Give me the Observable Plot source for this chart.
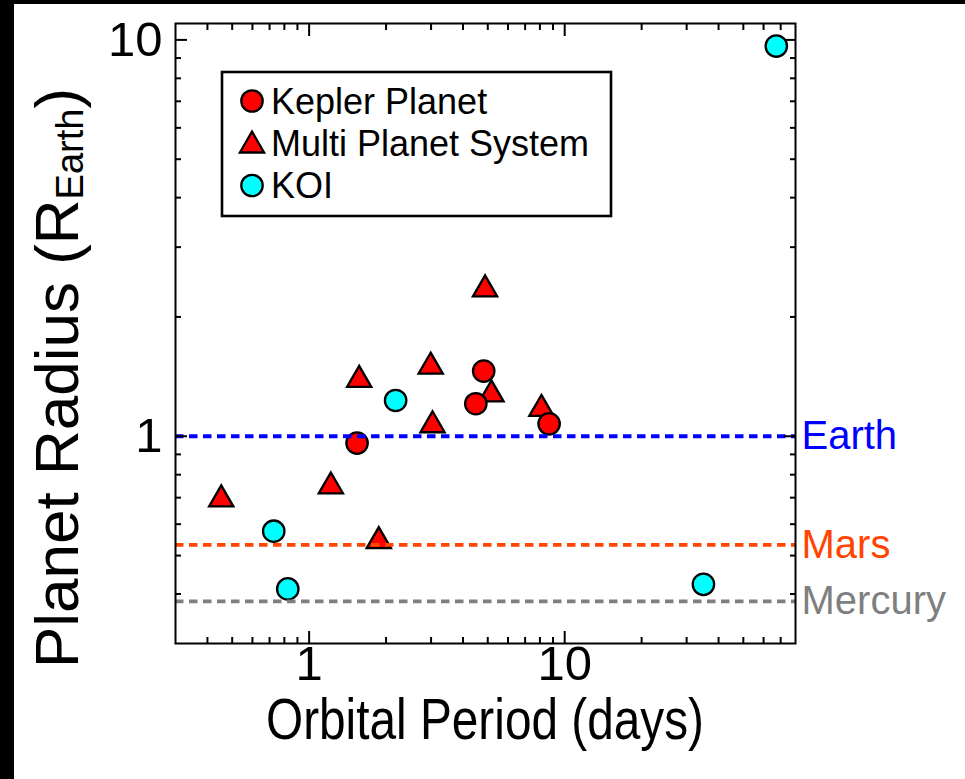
<!DOCTYPE html>
<html><head><meta charset="utf-8">
<script src="https://cdn.jsdelivr.net/npm/d3@7"></script>
<script src="https://cdn.jsdelivr.net/npm/@observablehq/plot@0.6"></script>
<style>
html,body{margin:0;padding:0;background:#fff;}
#wrap{position:relative;width:965px;height:779px;overflow:hidden;background:#fff;}
#wrap svg{display:block;}
.bar{position:absolute;background:#000;}
</style></head><body>
<div id="wrap"></div>
<script>
// ---- data ----
const keplerPeriod = [1.54, 4.82, 4.49, 8.69];
const keplerRadius = [0.961, 1.460, 1.208, 1.075];
const multiPeriod = [0.453, 1.216, 1.570, 1.873, 2.99, 3.04, 4.88, 5.17, 8.11];
const multiRadius = [0.693, 0.747, 1.388, 0.544, 1.498, 1.066, 2.348, 1.276, 1.172];
const koiPeriod = [2.18, 0.727, 0.825, 34.9, 67.3];
const koiRadius = [1.231, 0.576, 0.412, 0.423, 9.65];
const refNames = ["Earth", "Mars", "Mercury"];
const refRadius = [1.0, 0.532, 0.383];
const refColors = ["#0000ff", "#ff4500", "#7f7f7f"];
const majorTicks = [1, 10];
const xMinorTicks = [0.4, 0.5, 0.6, 0.7, 0.8, 0.9, 2, 3, 4, 5, 6, 7, 8, 9, 20, 30, 40, 50, 60, 70];
const yMinorTicks = [0.4, 0.5, 0.6, 0.7, 0.8, 0.9, 2, 3, 4, 5, 6, 7, 8, 9];
const legendLabels = ["Kepler Planet", "Multi Planet System", "KOI"];
const xTitle = "Orbital Period (days)";
const yTitleMain = "Planet Radius (R";
const yTitleSub = "Earth";

const kepler = keplerPeriod.map((p, i) => ({period: p, radius: keplerRadius[i]}));
const multi = multiPeriod.map((p, i) => ({period: p, radius: multiRadius[i]}));
const koi = koiPeriod.map((p, i) => ({period: p, radius: koiRadius[i]}));
const refs = refNames.map((n, i) => ({name: n, radius: refRadius[i], color: refColors[i]}));

const FONT = "'Liberation Sans', Arial, Helvetica, sans-serif";
const RED = "#ff0000", CYAN = "#00ffff";
const rCircle = 10.7, rTri = 9, SW = 2.3;

const tickAxes = [];
for (const a of ["bottom", "top"]) {
  tickAxes.push(Plot.axisX(majorTicks, {anchor: a, tickSize: -12, stroke: "black", strokeWidth: 2, fill: "none", label: null}));
  tickAxes.push(Plot.axisX(xMinorTicks, {anchor: a, tickSize: -6, stroke: "black", strokeWidth: 2, fill: "none", label: null}));
}
for (const a of ["left", "right"]) {
  tickAxes.push(Plot.axisY(majorTicks, {anchor: a, tickSize: -12, stroke: "black", strokeWidth: 2, fill: "none", label: null}));
  tickAxes.push(Plot.axisY(yMinorTicks, {anchor: a, tickSize: -6, stroke: "black", strokeWidth: 2, fill: "none", label: null}));
}

const chart = Plot.plot({
  width: 965, height: 779,
  marginLeft: 175, marginRight: 170, marginTop: 23, marginBottom: 136,
  x: {type: "log", domain: [0.3, 80]},
  y: {type: "log", domain: [0.3, 11]},
  color: {type: "identity"},
  style: {fontFamily: FONT, background: "white", color: "black", overflow: "visible"},
  marks: [
    Plot.dot(multi, {x: "period", y: "radius", symbol: "triangle", r: rTri, fill: RED, stroke: "black", strokeWidth: SW}),
    Plot.dot(kepler, {x: "period", y: "radius", r: rCircle, fill: RED, stroke: "black", strokeWidth: SW}),
    Plot.dot(koi, {x: "period", y: "radius", r: rCircle, fill: CYAN, stroke: "black", strokeWidth: SW}),
    Plot.ruleY(refs, {y: "radius", stroke: "color", strokeWidth: 3.8, strokeDasharray: "8.5,5.5"}),
    Plot.text(refs, {y: "radius", text: "name", fill: "color", frameAnchor: "right", dx: 6, textAnchor: "start", fontSize: 40}),
    Plot.frame({stroke: "black", strokeWidth: 2}),
    ...tickAxes,
    Plot.axisX(majorTicks, {anchor: "bottom", tickSize: 0, tickPadding: 2, fontSize: 49, fill: "black", tickFormat: d => String(d), label: null}),
    Plot.axisY(majorTicks, {anchor: "left", tickSize: 0, tickPadding: 13, fontSize: 49, fill: "black", tickFormat: d => String(d), label: null})
  ]
});

const svg = d3.select(chart);
// legend
const lg = svg.append("g").attr("font-family", FONT).attr("text-anchor", "start");
lg.append("rect").attr("x", 222).attr("y", 72).attr("width", 389).attr("height", 144)
  .attr("fill", "white").attr("stroke", "black").attr("stroke-width", 2.6);
const rowY = [101, 143.5, 185.5];
const legendStyles = [
  {sym: d3.symbolCircle, r: rCircle, fill: RED},
  {sym: d3.symbolTriangle, r: rTri, fill: RED},
  {sym: d3.symbolCircle, r: rCircle, fill: CYAN}
];
legendLabels.forEach((lab, i) => {
  const s = legendStyles[i];
  lg.append("path")
    .attr("transform", `translate(252,${rowY[i] + (i === 1 ? 2 : 0)})`)
    .attr("d", d3.symbol(s.sym, Math.PI * s.r * s.r)())
    .attr("fill", s.fill).attr("stroke", "black").attr("stroke-width", SW);
  lg.append("text").attr("x", 271).attr("y", rowY[i]).attr("dy", "0.36em")
    .attr("text-anchor", "start").attr("font-size", 36).attr("fill", "black").text(lab);
});
// axis titles
svg.append("text").attr("x", 485).attr("y", 739).attr("text-anchor", "middle")
  .attr("font-family", FONT).attr("font-size", 58).attr("fill", "black")
  .attr("textLength", 438).attr("lengthAdjust", "spacingAndGlyphs").text(xTitle);
const yt = svg.append("text").attr("transform", "translate(78,378) rotate(-90)")
  .attr("text-anchor", "middle").attr("font-family", FONT).attr("font-size", 62).attr("fill", "black");
yt.append("tspan").text(yTitleMain);
yt.append("tspan").attr("font-size", 38).attr("dy", 5).text(yTitleSub);
yt.append("tspan").attr("dy", -5).text(")");

const wrap = document.getElementById("wrap");
wrap.appendChild(chart);
const b1 = document.createElement("div"); b1.className = "bar";
b1.style.cssText = "left:0;top:0;width:14px;height:779px;";
const b2 = document.createElement("div"); b2.className = "bar";
b2.style.cssText = "left:0;top:0;width:965px;height:4px;";
wrap.appendChild(b1); wrap.appendChild(b2);
</script>
</body></html>
